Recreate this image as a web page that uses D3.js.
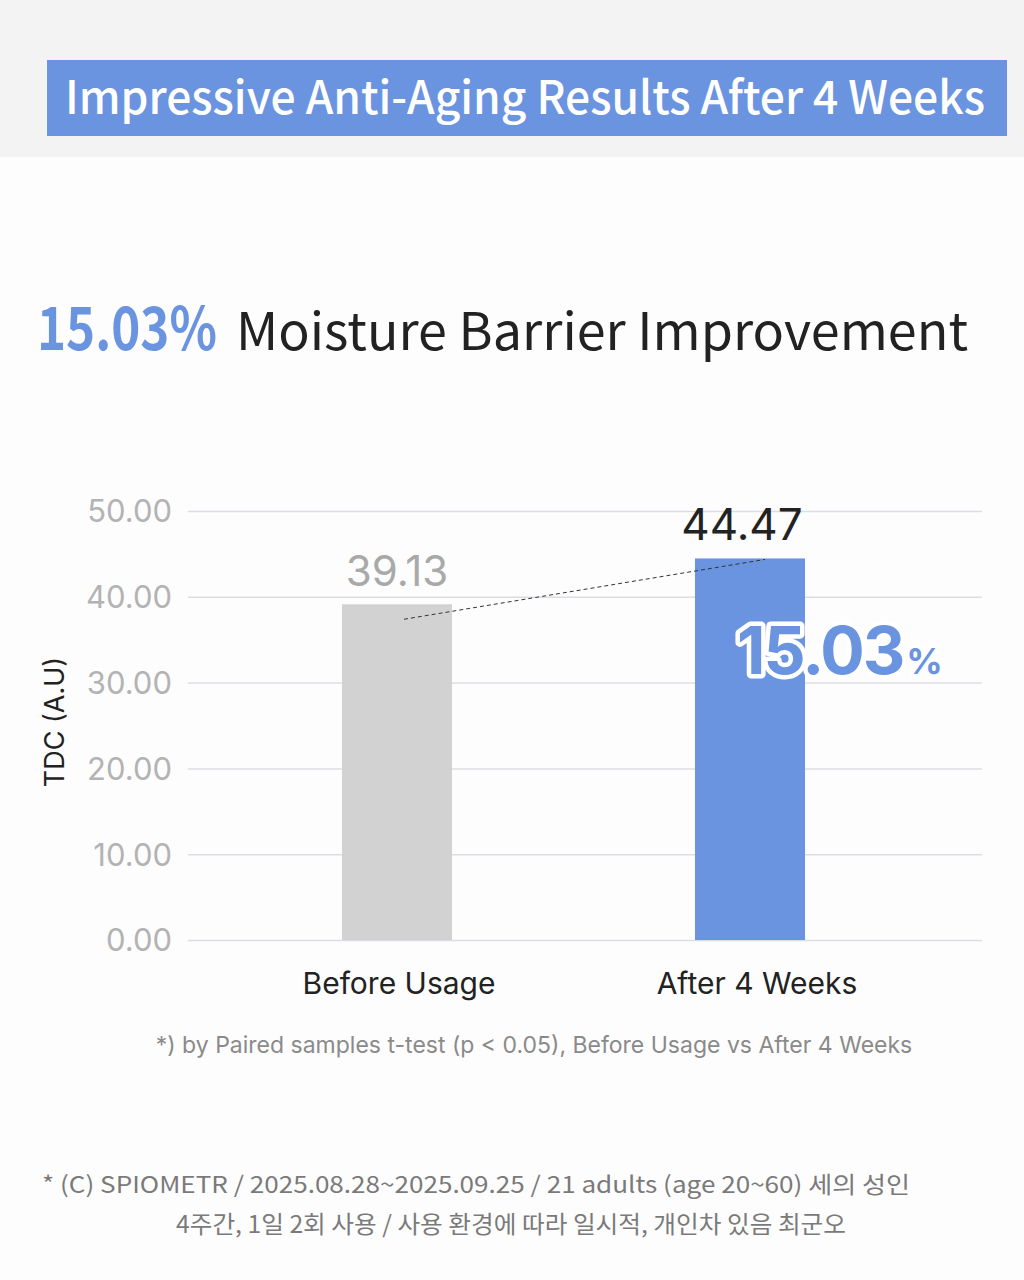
<!DOCTYPE html>
<html>
<head>
<meta charset="utf-8">
<script src="https://cdn.jsdelivr.net/npm/d3@7"></script>
<style>
  html, body { margin: 0; padding: 0; background: #fdfdfd; }
  svg { display: block; font-family: "Noto Sans CJK KR", Inter, "Noto Sans", sans-serif; }
</style>
</head>
<body>
<div id="chart"></div>
<script>
// chart data
const categories = ["Before Usage", "After 4 Weeks"];
const values = [39.13, 44.47];
const valueLabels = ["39.13", "44.47"];
const yTicks = [0, 10, 20, 30, 40, 50];
const improvement = "15.03";

const W = 1024, H = 1280;
const svg = d3.select("#chart").append("svg")
  .attr("width", W).attr("height", H);

// background bands
svg.append("rect").attr("x", 0).attr("y", 0).attr("width", W).attr("height", H).attr("fill", "#fdfdfd");
svg.append("rect").attr("x", 0).attr("y", 0).attr("width", W).attr("height", 157).attr("fill", "#f3f3f3");

// title banner
svg.append("rect").attr("x", 47).attr("y", 60).attr("width", 960).attr("height", 76).attr("fill", "#6a93e0");
svg.append("text")
  .attr("x", 65).attr("y", 114)
  .attr("textLength", 920).attr("lengthAdjust", "spacingAndGlyphs")
  .attr("fill", "#fff").attr("font-size", 46).attr("font-weight", 500)
  .text("Impressive Anti-Aging Results After 4 Weeks");

// heading
svg.append("text")
  .attr("x", 37).attr("y", 350)
  .attr("textLength", 180).attr("lengthAdjust", "spacingAndGlyphs")
  .attr("fill", "#6a93e0").attr("font-size", 60).attr("font-weight", 700)
  .text(improvement + "%");
svg.append("text")
  .attr("x", 236).attr("y", 350)
  .attr("textLength", 732).attr("lengthAdjust", "spacingAndGlyphs")
  .attr("fill", "#222").attr("font-size", 52).attr("font-weight", 400)
  .text("Moisture Barrier Improvement");

// scales
const y = d3.scaleLinear().domain([0, 50]).range([940, 511]);
const x = d3.scalePoint().domain(categories).range([397, 750]);
const barW = 110;

// y axis with gridlines
const yAxis = svg.append("g")
  .attr("transform", "translate(188,0)")
  .call(d3.axisLeft(y).tickValues(yTicks).tickSize(-794).tickPadding(16).tickFormat(d3.format(".2f")));
yAxis.select(".domain").remove();
yAxis.selectAll(".tick line").attr("stroke", "#dcdde3").attr("stroke-width", 1.5);
yAxis.selectAll(".tick text").attr("fill", "#b3b3b3").attr("font-size", 31)
  .attr("font-family", "Inter, 'Noto Sans', sans-serif").attr("dy", "0.35em");

// axis title
svg.append("text")
  .attr("transform", "translate(64,722) rotate(-90)")
  .attr("text-anchor", "middle").attr("fill", "#222").attr("font-size", 27)
  .attr("font-family", "Inter, 'Noto Sans', sans-serif")
  .text("TDC (A.U)");

// bars
const barColors = ["#d2d2d2", "#6a93e0"];
svg.selectAll("rect.bar")
  .data(values)
  .enter().append("rect")
  .attr("class", "bar")
  .attr("x", (d, i) => x(categories[i]) - barW / 2)
  .attr("y", d => y(d))
  .attr("width", barW)
  .attr("height", d => y(0) - y(d))
  .attr("fill", (d, i) => barColors[i]);

// value labels
const labelColors = ["#a9a9a9", "#222"];
svg.selectAll("text.vlabel")
  .data(values)
  .enter().append("text")
  .attr("class", "vlabel")
  .attr("x", (d, i) => x(categories[i]) - (i ? 8 : 0))
  .attr("y", d => y(d) - 18)
  .attr("text-anchor", "middle")
  .attr("font-size", (d, i) => i ? 44 : 42)
  .attr("font-family", "Inter, 'Noto Sans', sans-serif")
  .attr("fill", (d, i) => labelColors[i])
  .text((d, i) => valueLabels[i]);

// dashed connector
svg.append("line")
  .attr("x1", x(categories[0]) + 7).attr("y1", y(values[0]) + 15)
  .attr("x2", x(categories[1]) + 15).attr("y2", y(values[1]) + 1)
  .attr("stroke", "#333").attr("stroke-width", 1).attr("stroke-dasharray", "4,3");

// improvement callout
const callout = svg.append("text")
  .attr("x", 737).attr("y", 674)
  .attr("font-family", "Inter, 'Noto Sans', sans-serif")
  .attr("fill", "#6a93e0").attr("stroke", "#fff").attr("stroke-width", 9)
  .attr("stroke-linejoin", "round").attr("paint-order", "stroke")
  .attr("font-weight", 700);
callout.append("tspan").attr("font-size", 66).attr("letter-spacing", -2).text(improvement);
callout.append("tspan").attr("font-size", 36).attr("dx", 3).text("%");

// x labels
svg.selectAll("text.xlabel")
  .data(categories)
  .enter().append("text")
  .attr("class", "xlabel")
  .attr("x", (d, i) => x(d) + (i ? 7 : 2))
  .attr("y", 994)
  .attr("text-anchor", "middle")
  .attr("font-size", 30)
  .attr("font-family", "Inter, 'Noto Sans', sans-serif")
  .attr("fill", "#222")
  .text(d => d);

// notes
svg.append("text")
  .attr("x", 534).attr("y", 1053).attr("text-anchor", "middle")
  .attr("font-size", 23).attr("fill", "#8a8a8a")
  .attr("font-family", "Inter, 'Noto Sans', sans-serif")
  .text("*) by Paired samples t-test (p < 0.05), Before Usage vs After 4 Weeks");

svg.append("text")
  .attr("x", 42).attr("y", 1193)
  .attr("textLength", 868).attr("lengthAdjust", "spacingAndGlyphs")
  .attr("font-size", 23).attr("fill", "#7a7a7a")
  .text("* (C) SPIOMETR / 2025.08.28~2025.09.25 / 21 adults (age 20~60) 세의 성인");
svg.append("text")
  .attr("x", 176).attr("y", 1233)
  .attr("textLength", 670).attr("lengthAdjust", "spacingAndGlyphs")
  .attr("font-size", 24).attr("fill", "#7a7a7a")
  .text("4주간, 1일 2회 사용 / 사용 환경에 따라 일시적, 개인차 있음 최군오");
</script>
</body>
</html>
